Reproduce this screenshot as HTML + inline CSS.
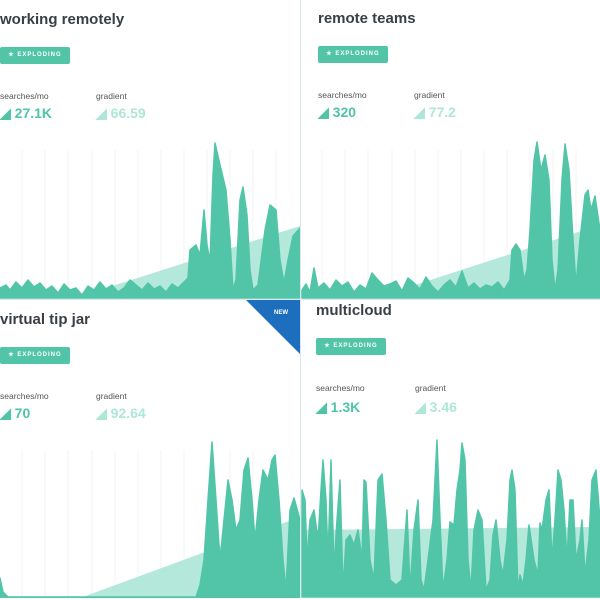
<!DOCTYPE html>
<html><head><meta charset="utf-8"><style>
body{margin:0;width:600px;height:600px;overflow:hidden;background:#fff;font-family:"Liberation Sans",sans-serif;position:relative}
.t{position:absolute;font-size:15px;font-weight:bold;color:#3a3f45}
.b{position:absolute;width:70px;height:17px;background:#52c5a8;border-radius:2px;color:#fff;font-size:6px;font-weight:bold;letter-spacing:1px;line-height:17px;text-align:center}
.l{position:absolute;font-size:8.5px;color:#555}
.v{position:absolute;font-size:14px;font-weight:bold;color:#4fc4a6}
.g{position:absolute;font-size:14px;font-weight:bold;color:#aee6d7}
svg{position:absolute;left:0;top:0}
</style></head><body>
<svg width="600" height="600">
<g stroke="#f1f3f3" stroke-width="1">
<path d="M22 150V298M45 150V298M68 150V298M92 150V298M115 150V298M138 150V298M161 150V298M184 150V298M207 150V298M230 150V298M253 150V298M276 150V298"/>
<path d="M322 150V298M345 150V298M368 150V298M392 150V298M415 150V298M438 150V298M461 150V298M484 150V298M507 150V298M530 150V298M553 150V298M576 150V298"/>
<path d="M22 450V598M45 450V598M68 450V598M92 450V598M115 450V598M138 450V598M161 450V598M184 450V598M230 450V598M253 450V598M276 450V598"/>
</g>
<polygon points="75,298 300,226 300,298" fill="#b3e8da"/>
<polygon points="375,298 600,225 600,298" fill="#b3e8da"/>
<polygon points="80,598 300,517 300,598" fill="#b3e8da"/>
<polygon points="302,530 600,527 600,597 302,597" fill="#b3e8da"/>
<g fill="#52c5a8" stroke="#52c5a8" stroke-width="1.5" stroke-linejoin="round">
<path d="M0 298L0 288 6 285 10 290 16 282 22 288 28 280 34 287 40 283 46 290 52 286 58 293 64 284 70 290 76 288 82 295 88 286 94 290 100 282 106 289 112 285 118 292 124 288 130 280 136 285 142 290 148 283 154 289 160 286 166 292 172 284 178 288 184 282 188 278 190 250 196 245 200 255 204 210 207 245 210 262 213 175 215 143 220 165 226 190 230 240 233 290 236 280 240 200 243 187 247 215 250 270 253 290 258 285 265 230 270 205 276 210 280 260 284 283 288 260 293 236 300 228 300 298Z"/>
<path d="M302 298L302 290 306 284 310 292 314 268 318 288 324 283 330 290 336 280 342 286 348 282 354 292 360 285 366 289 372 273 378 280 384 286 390 284 396 281 402 291 408 278 414 283 420 289 426 277 432 286 438 292 444 285 450 280 456 287 462 271 468 288 474 283 480 289 486 285 492 287 498 282 504 290 510 280 512 250 516 244 520 250 524 280 527 270 530 230 534 160 537 142 541 170 545 155 549 180 552 260 555 290 558 270 562 180 565 144 569 170 573 240 576 285 580 240 585 195 588 190 591 210 595 196 600 230 600 298Z"/>
<path d="M0 598L0 578 3 592 8 597 196 597 200 585 204 560 208 500 212 442 216 500 220 560 224 520 228 480 232 500 236 530 240 520 244 470 248 458 252 500 255 540 259 500 263 470 268 480 272 460 275 455 279 500 283 560 286 590 290 510 294 498 300 520 300 598Z"/>
<path d="M302 597L302 490 305 500 307 560 310 520 314 510 318 540 321 490 323 460 326 500 328 560 331 460 334 570 337 520 340 480 343 590 346 540 350 535 354 545 358 530 362 560 364 480 366 482 370 560 374 580 378 480 382 474 386 520 390 580 396 585 402 580 407 510 410 590 414 530 418 500 421 580 424 590 428 560 433 520 437 440 440 520 443 590 447 560 450 522 454 525 457 490 460 470 462 443 465 460 468 560 471 590 474 530 478 510 482 520 486 590 490 580 493 535 496 520 500 560 503 575 507 540 510 480 512 470 515 490 518 592 520 575 523 585 526 560 529 525 534 560 538 575 540 523 542 530 546 500 549 490 552 560 555 520 558 470 561 480 564 510 567 560 570 500 573 500 576 560 580 540 582 520 585 575 589 540 592 480 596 470 600 520 600 597Z"/>
</g>
<polygon points="246,300 300,300 300,354" fill="#1d6fbd"/>
<text x="281" y="314" font-size="6" font-weight="bold" fill="#fff" text-anchor="middle" font-family="Liberation Sans">NEW</text>
<line x1="300.5" y1="0" x2="300.5" y2="300" stroke="#dde8ee"/>
<line x1="0" y1="299.5" x2="600" y2="299.5" stroke="#dde8ee"/>
<line x1="300.5" y1="300" x2="300.5" y2="600" stroke="#dde8ee"/>
<rect x="0" y="598" width="600" height="2" fill="#fff"/>
</svg>
<div class="t" style="left:0;top:11px">working remotely</div>
<div class="b" style="left:0;top:47px">★ EXPLODING</div>
<div class="l" style="left:0;top:91px">searches/mo</div>
<div class="l" style="left:96px;top:91px">gradient</div>
<div class="v" style="left:0;top:105px">◢ 27.1K</div>
<div class="g" style="left:96px;top:105px">◢ 66.59</div>

<div class="t" style="left:318px;top:10px">remote teams</div>
<div class="b" style="left:318px;top:46px">★ EXPLODING</div>
<div class="l" style="left:318px;top:90px">searches/mo</div>
<div class="l" style="left:414px;top:90px">gradient</div>
<div class="v" style="left:318px;top:104px">◢ 320</div>
<div class="g" style="left:414px;top:104px">◢ 77.2</div>

<div class="t" style="left:0;top:311px">virtual tip jar</div>
<div class="b" style="left:0;top:347px">★ EXPLODING</div>
<div class="l" style="left:0;top:391px">searches/mo</div>
<div class="l" style="left:96px;top:391px">gradient</div>
<div class="v" style="left:0;top:405px">◢ 70</div>
<div class="g" style="left:96px;top:405px">◢ 92.64</div>

<div class="t" style="left:316px;top:302px">multicloud</div>
<div class="b" style="left:316px;top:338px">★ EXPLODING</div>
<div class="l" style="left:316px;top:383px">searches/mo</div>
<div class="l" style="left:415px;top:383px">gradient</div>
<div class="v" style="left:316px;top:399px">◢ 1.3K</div>
<div class="g" style="left:415px;top:399px">◢ 3.46</div>
</body></html>
